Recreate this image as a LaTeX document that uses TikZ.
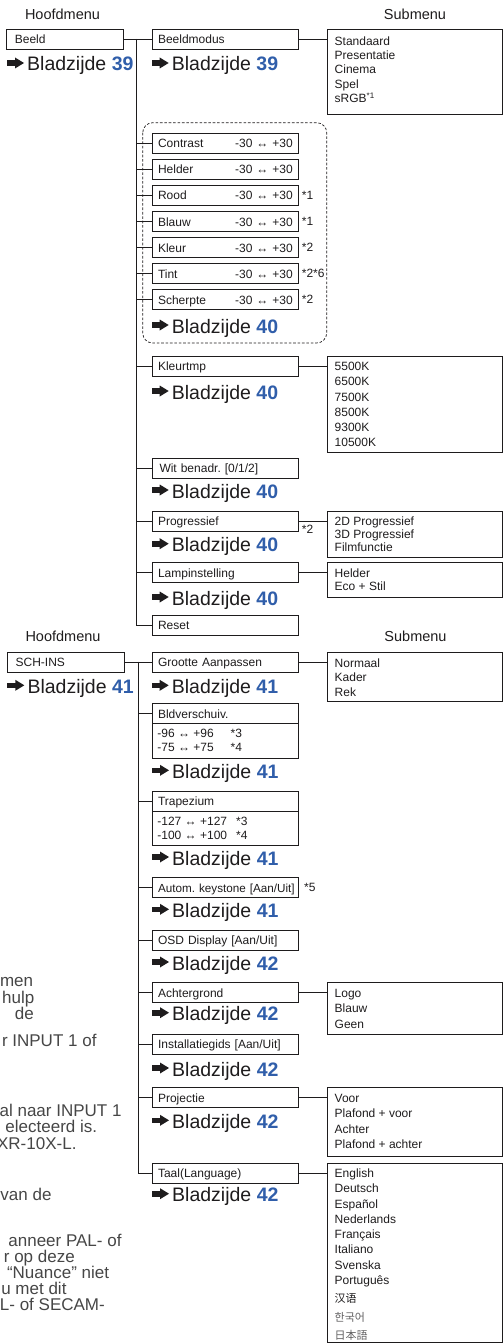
\documentclass[tikz,border=0pt]{standalone}
\usepackage{fontspec}
\setmainfont{Liberation Sans}
\newfontfamily\cjksc{Noto Sans CJK SC}
\newfontfamily\cjkkr{Noto Sans CJK KR}
\newfontfamily\cjkjp{Noto Sans CJK JP}
\definecolor{ink}{RGB}{30,28,29}
\definecolor{pblue}{RGB}{48,94,170}
\definecolor{note}{RGB}{70,70,70}
\frenchspacing
% push the value range to the right edge of a box
\newcommand\fillgap{\hspace{0pt plus 1filll}}
% list of options inside a submenu box: width, height, first baseline, line pitch, items
\newcommand\sublist[5]{\parbox[c][#2][t]{#1}{\fontsize{12}{#4}\selectfont\raggedright\rule{0pt}{#3}#5}}

\tikzset{
  wire/.style={draw=ink, line width=0.9pt},
  boxfont/.style={font=\fontsize{12}{14}\selectfont},
  menubox/.style={draw=ink, line width=0.8pt, anchor=north west, text=ink, boxfont,
    minimum height=20pt, inner xsep=8.5pt, inner ysep=0pt, text width=100pt,
    align=left, text height=8.6pt, text depth=0pt},
  itembox/.style={menubox, inner xsep=5.6pt, text width=134.8pt},
  listbox/.style={draw=ink, line width=0.8pt, anchor=north west, text=ink,
    inner xsep=7pt, inner ysep=0pt},
  bodybox/.style={listbox, inner xsep=5pt},
  fnote/.style={anchor=west, inner sep=0pt, text=ink, boxfont, text height=8.6pt, text depth=0pt},
  heading/.style={anchor=base, inner sep=0pt, text=ink, font=\fontsize{14.5}{16}\selectfont},
  notetext/.style={anchor=base east, inner sep=0pt, text=note, font=\fontsize{17}{18}\selectfont},
  groupframe/.style={draw=ink, line width=0.7pt, dash pattern=on 2.6pt off 1.8pt, rounded corners=10pt},
  goto/.pic={
    \fill[ink] (0pt,5.2pt) rectangle (9pt,10.8pt);
    \fill[ink] (8pt,2.5pt) -- (17pt,8pt) -- (8pt,13.5pt) -- cycle;
    \node[anchor=base west, inner sep=0pt, text=ink, font=\fontsize{19.5}{22}\selectfont]
      (-t) at (20pt,0pt) {Bladzijde \textcolor{pblue}{\bfseries #1}};
  },
}

\begin{document}
\begin{tikzpicture}[x=1pt,y=-1pt]
\useasboundingbox (0,0) rectangle (503,1343);

% ---------------- Beeld ----------------
\node[heading] (hm1) at (62.5,19.5) {Hoofdmenu};
\node[heading] (sm1) at (415,20) {Submenu};

\node[menubox] (beeld) at (6,29) {Beeld};
\pic (g1) at (7,71) {goto=39};

\node[itembox] (bmodus) at (152,29) {Beeldmodus};
\pic (g2) at (151.7,71) {goto=39};
\node[listbox] (lmodus) at (327.3,29)
  {\sublist{160.3pt}{85pt}{16pt}{14.3pt}{Standaard\\Presentatie\\Cinema\\Spel\\sRGB\textsuperscript{*1}}};

\draw[groupframe] (142.7,122.7) rectangle (326.7,343);
\node[itembox] (contrast) at (152,133.3) {Contrast\fillgap -30 ↔ +30};
\node[itembox] (helder)   at (152,159.3) {Helder\fillgap -30 ↔ +30};
\node[itembox] (rood)     at (152,185.3) {Rood\fillgap -30 ↔ +30};
\node[itembox] (blauw)    at (152,211.3) {Blauw\fillgap -30 ↔ +30};
\node[itembox] (kleur)    at (152,237.3) {Kleur\fillgap -30 ↔ +30};
\node[itembox] (tint)     at (152,263.3) {Tint\fillgap -30 ↔ +30};
\node[itembox] (scherpte) at (152,289.3) {Scherpte\fillgap -30 ↔ +30};
\node[fnote] (f1) at (301.7,195.3) {*1};
\node[fnote] (f2) at (301.7,221.3) {*1};
\node[fnote] (f3) at (301.7,247.3) {*2};
\node[fnote] (f4) at (301.7,273.3) {*2*6};
\node[fnote] (f5) at (301.7,299.3) {*2};
\pic (g3) at (151.7,333) {goto=40};

\node[itembox] (kleurtmp) at (152,355.7) {Kleurtmp};
\pic (g4) at (151.7,399) {goto=40};
\node[listbox] (lkleur) at (327.3,355.7)
  {\sublist{160.3pt}{96pt}{14.3pt}{15.3pt}{5500K\\6500K\\7500K\\8500K\\9300K\\10500K}};

\node[itembox] (wit) at (152,457.7) {\hspace*{1.5pt}Wit benadr. [0/1/2]};
\pic (g5) at (151.7,498) {goto=40};

\node[itembox] (progr) at (152,510.7) {Progressief};
\node[fnote] (f6) at (301.7,529.5) {*2};
\pic (g6) at (151.7,551.7) {goto=40};
\node[listbox] (lprogr) at (327.3,510.7)
  {\sublist{160.3pt}{46pt}{14.6pt}{13.1pt}{2D Progressief\\3D Progressief\\Filmfunctie}};

\node[itembox] (lamp) at (152,562.3) {Lampinstelling};
\pic (g7) at (151.7,605) {goto=40};
\node[listbox] (llamp) at (327.3,562.3)
  {\sublist{160.3pt}{35pt}{14.7pt}{13.3pt}{Helder\\Eco + Stil}};

\node[itembox] (reset) at (152,615) {Reset};

\coordinate (tk1) at (136.7,39);
\draw[wire] (beeld.east) -- (bmodus.west);
\draw[wire] (tk1) |- (reset.west);
\foreach \b in {contrast,helder,rood,blauw,kleur,tint,scherpte,kleurtmp,wit,progr,lamp}
  \draw[wire] (\b.west) -- (\b.west -| tk1);
\draw[wire] (bmodus.east) -- (lmodus.west |- bmodus.east);
\draw[wire] (kleurtmp.east) -- (lkleur.west |- kleurtmp.east);
\draw[wire] (progr.east) -- (lprogr.west |- progr.east);
\draw[wire] (lamp.east) -- (llamp.west |- lamp.east);

% ---------------- SCH-INS ----------------
\node[heading] (hm2) at (63,641) {Hoofdmenu};
\node[heading] (sm2) at (415.5,641) {Submenu};

\node[menubox] (schins) at (6.7,651.7) {SCH-INS};
\pic (g8) at (7.3,693.3) {goto=41};

\node[itembox] (grootte) at (152,651.7) {Grootte Aanpassen};
\pic (g9) at (151.7,693.3) {goto=41};
\node[listbox] (lgrootte) at (327.3,651.7)
  {\sublist{160.3pt}{49.3pt}{15pt}{14.7pt}{Normaal\\Kader\\Rek}};

\node[itembox] (bldv) at (152,703.3) {Bldverschuiv.};
\node[bodybox] (bldvb) at (152,723.3)
  {\sublist{136pt}{34.4pt}{13.7pt}{14pt}{\makebox[73.3pt][l]{-96 ↔ +96}*3\\\makebox[73.3pt][l]{-75 ↔ +75}*4}};
\pic (g10) at (152,778.3) {goto=41};

\node[itembox] (trap) at (152,790.7) {Trapezium};
\node[bodybox] (trapb) at (152,810.7)
  {\sublist{136pt}{34.3pt}{14.3pt}{14.3pt}{\makebox[78.7pt][l]{-127 ↔ +127}*3\\\makebox[78.7pt][l]{-100 ↔ +100}*4}};
\pic (g11) at (152,865) {goto=41};

\node[itembox] (autom) at (152,877.3) {\mbox{\fontsize{11.7}{14}\selectfont Autom. keystone [Aan/Uit]}};
\node[fnote] (f7) at (304,887.3) {*5};
\pic (g12) at (152,917.3) {goto=41};

\node[itembox] (osd) at (152,930) {OSD Display [Aan/Uit]};
\pic (g13) at (152,970) {goto=42};

\node[itembox] (achter) at (152,982.3) {Achtergrond};
\pic (g14) at (152,1020.7) {goto=42};
\node[listbox] (lachter) at (327.3,982.3)
  {\sublist{160.3pt}{52pt}{14.3pt}{15.8pt}{Logo\\Blauw\\Geen}};

\node[itembox] (install) at (152,1034) {Installatiegids [Aan/Uit]};
\pic (g15) at (152,1076) {goto=42};

\node[itembox] (proj) at (152,1087.3) {Projectie};
\pic (g16) at (152,1128.3) {goto=42};
\node[listbox] (lproj) at (327.3,1087.3)
  {\sublist{160.3pt}{68.4pt}{14.7pt}{15.4pt}{Voor\\Plafond + voor\\Achter\\Plafond + achter}};

\node[itembox] (taal) at (152,1162.7) {Taal(Language)};
\pic (g17) at (152,1201.7) {goto=42};
\node[listbox] (ltaal) at (327.3,1162.7)
  {\sublist{160.3pt}{179pt}{14.3pt}{15.3pt}{English\\Deutsch\\Español\\Nederlands\\Français\\Italiano\\Svenska\\Português\\[3pt]
   {\cjksc\fontsize{11}{12}\selectfont 汉语}\\[3pt]
   {\cjkkr\fontsize{11}{12}\selectfont\color{ink!70}한국어}\\[3pt]
   {\cjkjp\fontsize{11}{12}\selectfont\color{ink!70}日本語}}};

\coordinate (tk2) at (138.3,661.7);
\draw[wire] (schins.east) -- (grootte.west);
\draw[wire] (tk2) |- (taal.west);
\foreach \b in {bldv,trap,autom,osd,achter,install,proj}
  \draw[wire] (\b.west) -- (\b.west -| tk2);
\draw[wire] (grootte.east) -- (lgrootte.west |- grootte.east);
\draw[wire] (achter.east) -- (lachter.west |- achter.east);
\draw[wire] (proj.east) -- (lproj.west |- proj.east);
\draw[wire] (taal.east) -- (ltaal.west |- taal.east);

% ---------------- running text at the left edge ----------------
\node[notetext] (n1)  at (33.3,986.7)  {men};
\node[notetext] (n2)  at (34.5,1003)   {hulp};
\node[notetext] (n3)  at (34,1019.3)   {de};
\node[notetext] (n4)  at (96.7,1046.7) {r INPUT 1 of};
\node[notetext] (n5)  at (121.7,1116)  {al naar INPUT 1};
\node[notetext] (n6)  at (97.3,1132.5) {electeerd is.};
\node[notetext] (n7)  at (76.7,1149)   {XR-10X-L.};
\node[notetext] (n8)  at (51.7,1200.5) {van de};
\node[notetext] (n9)  at (121.7,1246)  {anneer PAL- of};
\node[notetext] (n10) at (75,1262)     {r op deze};
\node[notetext] (n11) at (109.3,1278.5){“Nuance” niet};
\node[notetext] (n12) at (66.7,1294.5) {u met dit};
\node[notetext] (n13) at (105,1310.5)  {L- of SECAM-};
\end{tikzpicture}
\end{document}
